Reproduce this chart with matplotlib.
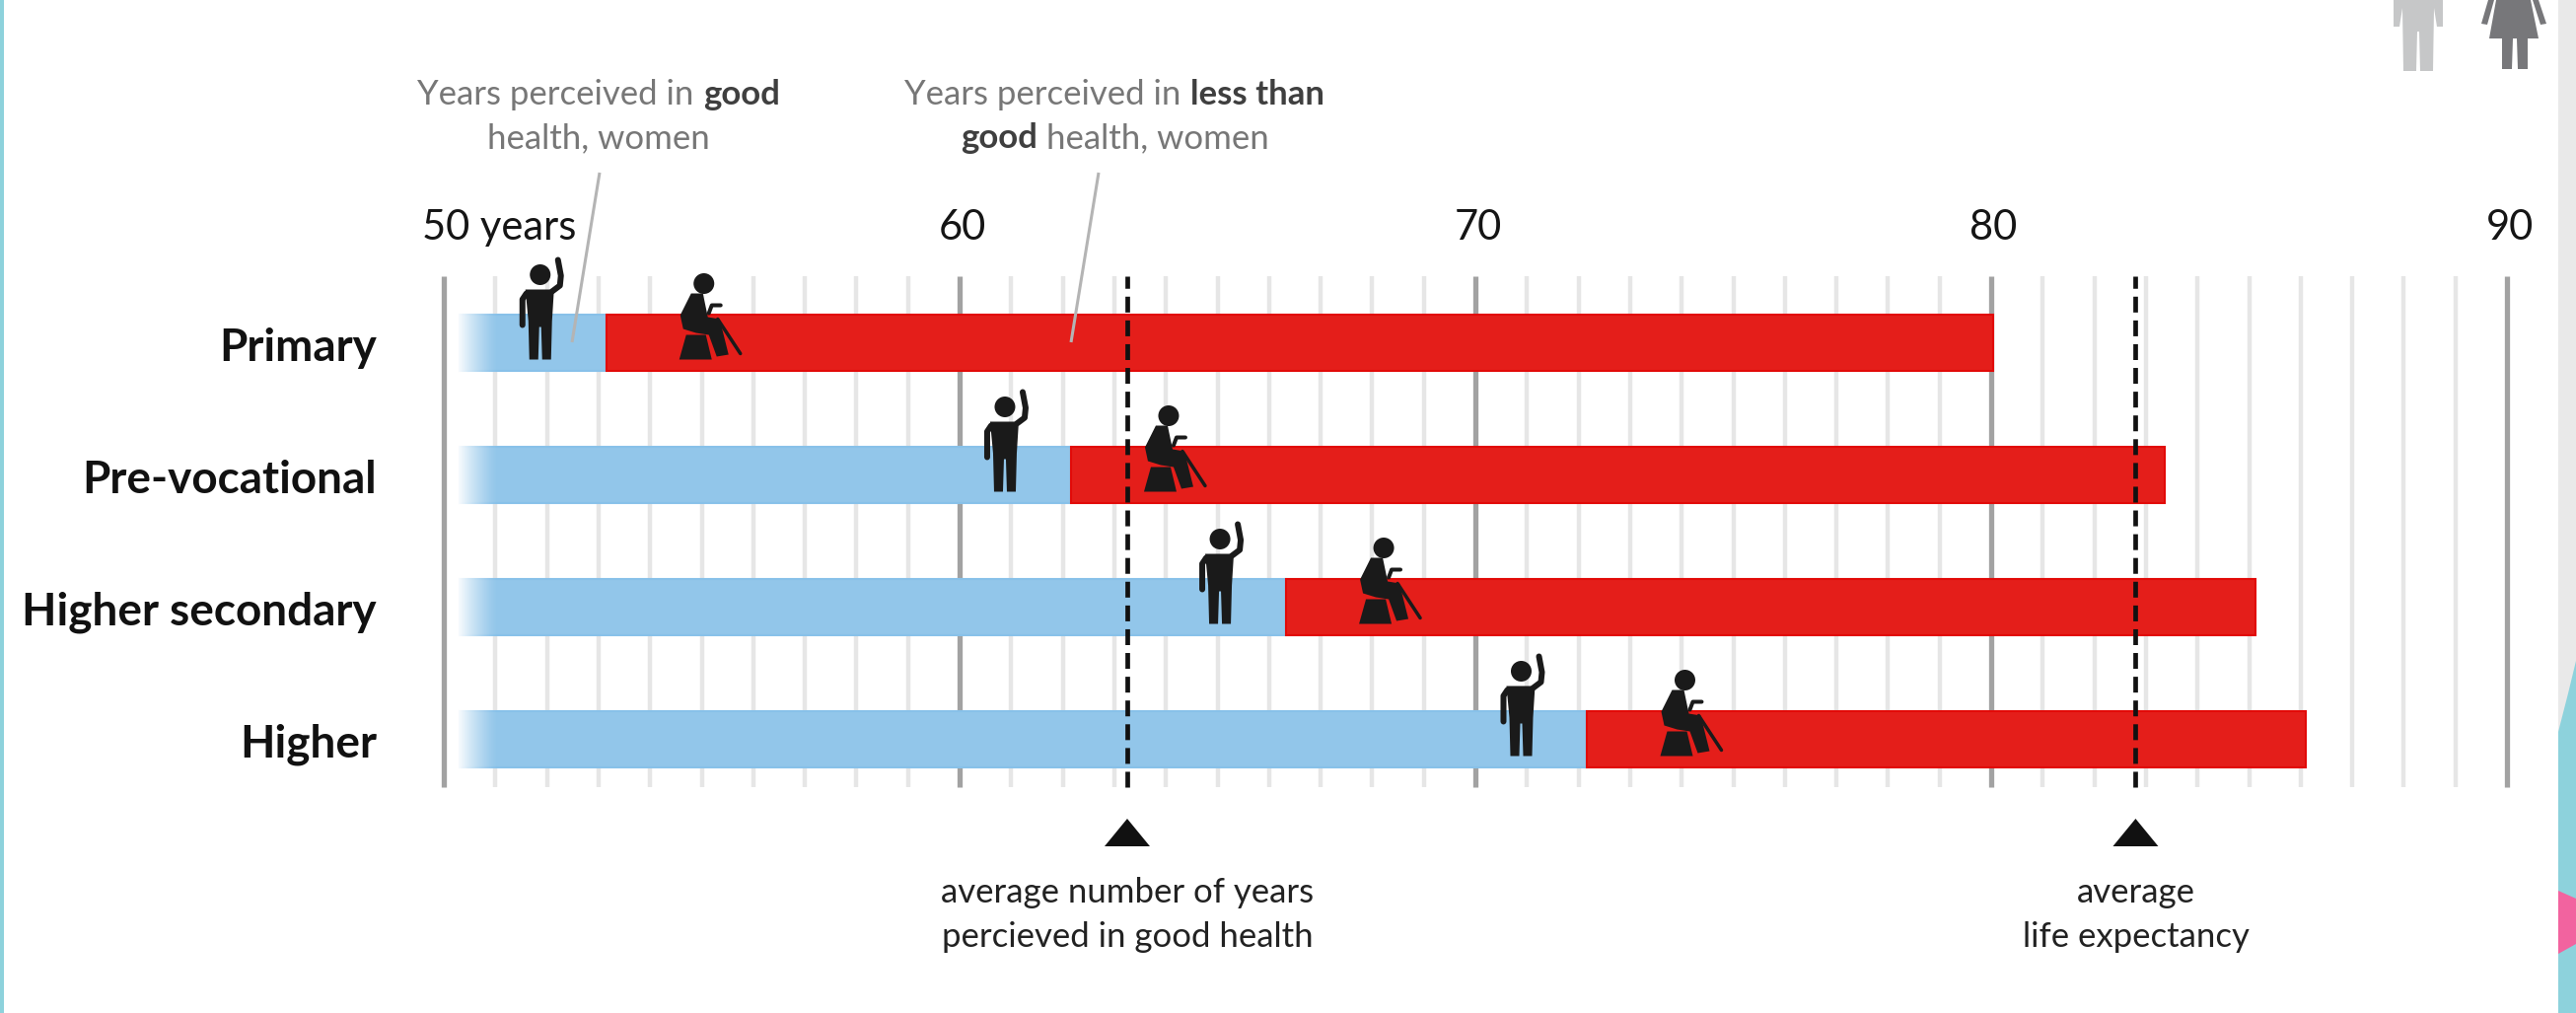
import numpy as np
import matplotlib
matplotlib.use("Agg")
import matplotlib.pyplot as plt
from matplotlib.patches import Polygon, Circle, Rectangle, PathPatch
from matplotlib.path import Path
from matplotlib.transforms import Affine2D

# Education levels and the ages at which each health phase ends (women)
levels = ["Primary", "Pre-vocational", "Higher secondary", "Higher"]
good_health_until = [53.15, 62.16, 66.33, 72.17]
life_expectancy = [80.04, 83.37, 85.13, 86.1]
axis_start = 50.3
avg_good_years = 63.25
avg_life_expectancy = 82.8
major_ticks = [50, 60, 70, 80, 90]
major_labels = ["50 years", "60", "70", "80", "90"]
minor_ticks = [y for y in range(51, 90) if y % 10]

W, H = 2612, 1027
DPI = 100
INK = "#1a1a1a"
BLUE, BLUE_EDGE = "#92c6ea", "#88c1e9"
RED, RED_EDGE = "#e41e1a", "#e20a08"
plt.rcParams["font.family"] = ["Lato", "DejaVu Sans"]

fig = plt.figure(figsize=(W / DPI, H / DPI), dpi=DPI, facecolor="white")

# Axes span the tick lines: 50-90 years across, rows 0-3 on a 134 px pitch
ax = fig.add_axes([450 / W, 1 - 798 / H, (2542 - 450) / W, (798 - 280) / H])
ax.set_xlim(50, 90)
ax.set_ylim((798 - 347.5) / 134, (280 - 347.5) / 134)
ax.axis("off")


def row_y(py):
    """Row coordinate for a pixel height on the page."""
    return (py - 347.5) / 134


def px_transform(x, y):
    """Pixel-sized local frame (y pointing down) anchored at a data point."""
    ox, oy = ax.transData.transform((x, y))
    return Affine2D().scale(1, -1).translate(ox, oy)


def stroke(pts, lw, t, color=INK, z=6):
    xs, ys = zip(*pts)
    ax.plot(xs, ys, color=color, lw=lw * 0.72, transform=t, clip_on=False,
            solid_capstyle="round", solid_joinstyle="round", zorder=z)


def shape(pts, t, color=INK, z=6):
    ax.add_patch(Polygon(pts, closed=True, fc=color, ec="none", transform=t,
                         clip_on=False, zorder=z))


def standing_person(t):
    # origin: head axis, bar centre line
    ax.add_patch(Circle((0, -69), 10.5, fc=INK, ec="none", transform=t, clip_on=False, zorder=6))
    shape([(-15, -54), (14, -54), (12, -22), (11, 17), (2, 17), (1, -16), (-1, -16),
           (-2, 17), (-11, 17), (-12, -22)], t)
    stroke([(-14, -50), (-18, -44), (-18, -18)], 6, t)
    stroke([(12, -52), (20, -58), (21, -68), (18, -84)], 6, t)


def seated_person(t):
    # origin: head axis, bar centre line
    ax.add_patch(Circle((0, -60), 10.5, fc=INK, ec="none", transform=t, clip_on=False, zorder=6))
    shape([(-13, -50), (-1, -50), (4, -26), (16, -24), (25, 12), (13, 14), (5, -8),
           (-8, -10), (-21, -14), (-24, -28)], t)
    shape([(-18, -8), (2, -8), (8, 17), (-25, 17)], t)
    stroke([(14, -24), (37, 11)], 3.5, t)
    stroke([(5, -30), (8, -38), (17, -38)], 4, t)


# Tick lines
ax.vlines(minor_ticks, 0, 1, transform=ax.get_xaxis_transform(), color="#e6e6e6", lw=3.2,
          zorder=1, clip_on=False)
ax.vlines(major_ticks, 0, 1, transform=ax.get_xaxis_transform(), color="#a2a2a2", lw=3.8,
          zorder=1, clip_on=False)

# Health bars, with the good-health part fading in from the left
for row, (turn, end) in enumerate(zip(good_health_until, life_expectancy)):
    ax.barh(row, turn - axis_start, left=axis_start, height=0.42, color=BLUE,
            edgecolor=BLUE_EDGE, lw=1.5, zorder=2)
    ax.barh(row, end - turn, left=turn, height=0.42, color=RED,
            edgecolor=RED_EDGE, lw=1.5, zorder=3)
    fade = np.ones((1, 64, 4))
    fade[..., 3] = np.linspace(1, 0, 64) ** 1.3
    ax.imshow(fade, extent=(axis_start - 0.05, axis_start + 0.75, row + 0.225, row - 0.225),
              aspect="auto", zorder=2.5, interpolation="bilinear")
    standing_person(px_transform(turn, row) + Affine2D().translate(-67, 0))
    seated_person(px_transform(turn, row) + Affine2D().translate(99, 0))
    ax.text(50 - 68 / 52.3, row + 18.5 / 134, levels[row], ha="right", va="baseline",
            fontsize=33, fontweight="bold", color="#111111", clip_on=False,
            family=["Liberation Sans Narrow", "Lato"])
ax.set_xlim(50, 90)
ax.set_ylim((798 - 347.5) / 134, (280 - 347.5) / 134)

# Reference lines for the two averages, with triangles and captions underneath
for x_val, caption in ((avg_good_years, "average number of years\npercieved in good health"),
                       (avg_life_expectancy, "average\nlife expectancy")):
    ax.plot([x_val, x_val], [0, 1], transform=ax.get_xaxis_transform(), color="#111111", lw=3.4,
            linestyle=(0, (3.4, 1.7)), dash_capstyle="butt", zorder=5, clip_on=False)
    base = px_transform(x_val, row_y(844))
    shape([(-23, 14), (23, 14), (0, -14)], base, color="#111111")
    for line, py in zip(caption.split("\n"), (915, 960)):
        ax.text(x_val, row_y(py), line, ha="center", va="baseline", fontsize=25,
                color="#222222", clip_on=False)

# Axis numbers above the plot
for tick, label in zip(major_ticks, major_labels):
    if tick == 50:
        ax.text(tick - 0.42, row_y(243), label, ha="left", va="baseline",
                fontsize=30, color="#151515", clip_on=False)
    else:
        ax.text(tick + 0.05, row_y(243), label, ha="center", va="baseline",
                fontsize=30, color="#151515", clip_on=False)


def rich_line(cx, py, runs):
    """Centre a line made of (text, bold) runs on a pixel baseline."""
    rend = fig.canvas.get_renderer()
    items = []
    for txt, bold in runs:
        items.append(fig.text(0, 1 - py / H, txt, fontsize=25, va="baseline", ha="left",
                              color="#3f3f3f" if bold else "#777777",
                              fontweight="bold" if bold else "normal"))
    widths = [it.get_window_extent(rend).width for it in items]
    gap = 9
    left = cx - (sum(widths) + gap * (len(runs) - 1)) / 2
    for it, w in zip(items, widths):
        it.set_x(left / W)
        left += w + gap


rich_line(607, 106, [("Years perceived in", False), ("good", True)])
rich_line(607, 150, [("health, women", False)])
rich_line(1130, 106, [("Years perceived in", False), ("less than", True)])
rich_line(1130, 150, [("good", True), ("health, women", False)])

# Overlay in raw pixel coordinates for callout leaders and page furniture
over = fig.add_axes([0, 0, 1, 1], facecolor="none", zorder=10)
over.set_xlim(0, W)
over.set_ylim(H, 0)
over.axis("off")
for (x0, y0), (x1, y1) in (((608, 175), (580, 347)), ((1114, 175), (1086, 347))):
    over.plot([x0, x1], [y0, y1], color="#b4b4b4", lw=2.2, solid_capstyle="butt")

# Gender pictograms cut off by the top edge
man = "#c6c7c8"
woman = "#77777a"
over.add_patch(Polygon([(2427, 0), (2477, 0), (2477, 27), (2471, 27), (2468, 8), (2467, 72),
                        (2454, 72), (2453, 32), (2451, 32), (2450, 72), (2437, 72), (2436, 8),
                        (2433, 27), (2427, 27)], fc=man, ec="none"))
over.add_patch(Polygon([(2531, 0), (2566, 0), (2574, 39), (2563, 39), (2563, 70), (2553, 70),
                        (2552, 39), (2548, 39), (2547, 70), (2537, 70), (2537, 39), (2524, 39)],
                       fc=woman, ec="none"))
over.add_patch(Polygon([(2523, 0), (2529, 0), (2522, 25), (2516, 24)], fc=woman, ec="none"))
over.add_patch(Polygon([(2568, 0), (2574, 0), (2582, 24), (2576, 25)], fc=woman, ec="none"))

# Slide background showing at the page edges
teal = "#8dd2dc"
over.add_patch(Rectangle((0, 0), 4, H, fc=teal, ec="none"))
over.add_patch(Rectangle((2594, 0), 18, H, fc=teal, ec="none"))
curve = Path([(2594, 0), (2612, 0), (2612, 670), (2605, 700), (2594, 742), (2594, 0)],
             [Path.MOVETO, Path.LINETO, Path.LINETO, Path.CURVE3, Path.CURVE3, Path.CLOSEPOLY])
over.add_patch(PathPatch(curve, fc="#e9e9e9", ec="none"))
over.add_patch(Polygon([(2594, 903), (2612, 911), (2612, 957), (2594, 967)], fc="#f2639f", ec="none"))

fig.savefig("out.png", dpi=DPI, facecolor="white")
